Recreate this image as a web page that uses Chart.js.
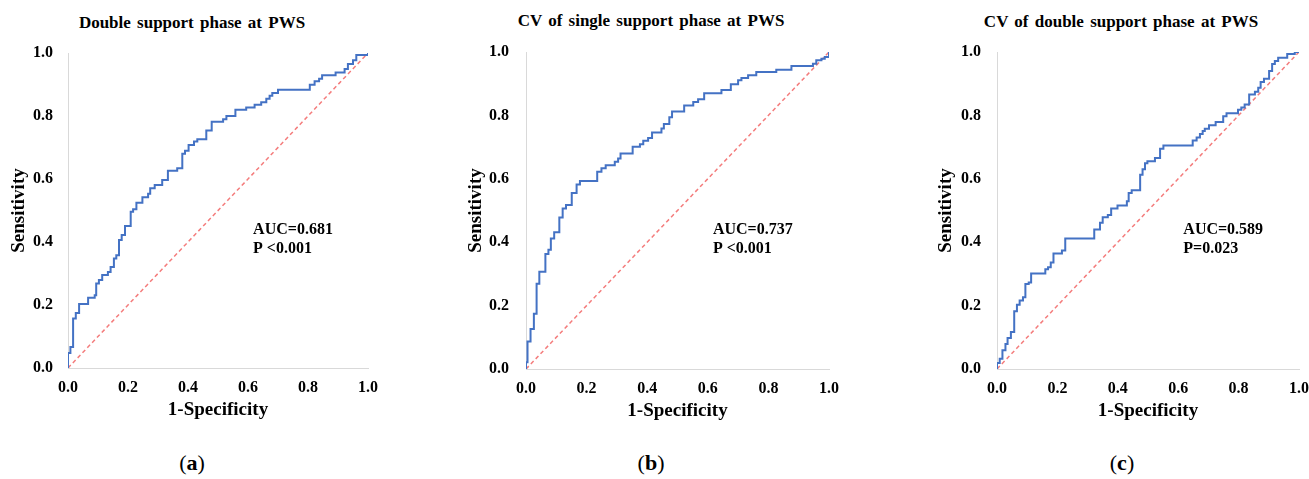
<!DOCTYPE html>
<html>
<head>
<meta charset="utf-8">
<script src="https://cdn.jsdelivr.net/npm/chart.js@4.4.1/dist/chart.umd.min.js"></script>
<style>
  html, body { margin: 0; padding: 0; background: #fff; }
  #wrap { position: relative; width: 1309px; height: 479px; overflow: hidden; background: #fff; }
  canvas { position: absolute; top: 0; }
  .ttl { position: absolute; font: bold 17px "Liberation Serif", "Times New Roman", serif; color: #000; white-space: nowrap; transform: translateX(-50%); word-spacing: 2px; }
  .sub { position: absolute; font: 22px "Liberation Serif", "Times New Roman", serif; color: #000; white-space: nowrap; transform: translateX(-50%); }
</style>
</head>
<body>
<div id="wrap">
  <div class="ttl" style="left:192px; top:13px;">Double support phase at PWS</div>
  <div class="ttl" style="left:651px; top:11px;">CV of single support phase at PWS</div>
  <div class="ttl" style="left:1121px; top:12px;">CV of double support phase at PWS</div>
  <canvas id="ca"></canvas>
  <canvas id="cb"></canvas>
  <canvas id="cc"></canvas>
  <div class="sub" style="left:192px; top:450px;">(<b>a</b>)</div>
  <div class="sub" style="left:651px; top:450px;">(<b>b</b>)</div>
  <div class="sub" style="left:1122px; top:450px;">(<b>c</b>)</div>
</div>
<script>
// ---- Data ----
const tickValues = [0, 0.2, 0.4, 0.6, 0.8, 1.0];
const xAxisLabel = "1-Specificity";
const yAxisLabel = "Sensitivity";

// (a) Double support phase at PWS
const fprA = [0, 0, 0.008, 0.017, 0.026, 0.037, 0.067, 0.089, 0.094, 0.103, 0.114, 0.133, 0.142, 0.153, 0.161, 0.170, 0.179, 0.190, 0.209, 0.217, 0.228, 0.248, 0.267, 0.274, 0.289, 0.314, 0.333, 0.364, 0.381, 0.390, 0.402, 0.420, 0.431, 0.461, 0.479, 0.517, 0.528, 0.558, 0.594, 0.622, 0.644, 0.661, 0.672, 0.681, 0.700, 0.806, 0.822, 0.837, 0.847, 0.892, 0.922, 0.933, 0.950, 0.961, 1.0];
const tprA = [0, 0.048, 0.067, 0.157, 0.175, 0.203, 0.223, 0.231, 0.268, 0.279, 0.295, 0.305, 0.321, 0.348, 0.358, 0.406, 0.422, 0.451, 0.496, 0.504, 0.525, 0.542, 0.553, 0.571, 0.581, 0.597, 0.626, 0.634, 0.680, 0.690, 0.708, 0.719, 0.726, 0.754, 0.782, 0.790, 0.800, 0.820, 0.827, 0.836, 0.844, 0.855, 0.864, 0.873, 0.883, 0.899, 0.910, 0.918, 0.929, 0.938, 0.949, 0.965, 0.977, 0.994, 1.0];
const statsA = ["AUC=0.681", "P <0.001"];

// (b) CV of single support phase at PWS
const fprB = [0, 0, 0.005, 0.015, 0.026, 0.035, 0.044, 0.064, 0.074, 0.082, 0.093, 0.110, 0.121, 0.132, 0.151, 0.167, 0.178, 0.235, 0.249, 0.263, 0.293, 0.304, 0.312, 0.352, 0.376, 0.387, 0.403, 0.416, 0.447, 0.455, 0.473, 0.482, 0.522, 0.552, 0.568, 0.588, 0.645, 0.676, 0.700, 0.711, 0.733, 0.760, 0.826, 0.876, 0.947, 0.958, 0.975, 0.986, 1.0];
const tprB = [0, 0.021, 0.087, 0.126, 0.174, 0.269, 0.307, 0.363, 0.376, 0.412, 0.431, 0.478, 0.506, 0.517, 0.555, 0.582, 0.593, 0.622, 0.633, 0.643, 0.654, 0.664, 0.680, 0.701, 0.709, 0.720, 0.729, 0.746, 0.759, 0.773, 0.794, 0.812, 0.831, 0.842, 0.851, 0.870, 0.880, 0.898, 0.911, 0.918, 0.927, 0.937, 0.944, 0.956, 0.963, 0.974, 0.979, 0.984, 1.0];
const statsB = ["AUC=0.737", "P <0.001"];

// (c) CV of double support phase at PWS
const fprC = [0, 0, 0.009, 0.018, 0.028, 0.035, 0.046, 0.057, 0.066, 0.075, 0.086, 0.094, 0.105, 0.113, 0.160, 0.169, 0.178, 0.187, 0.215, 0.226, 0.322, 0.341, 0.350, 0.367, 0.378, 0.399, 0.430, 0.436, 0.446, 0.474, 0.482, 0.490, 0.498, 0.523, 0.540, 0.551, 0.648, 0.661, 0.672, 0.681, 0.688, 0.702, 0.724, 0.749, 0.760, 0.798, 0.809, 0.820, 0.835, 0.854, 0.865, 0.873, 0.884, 0.901, 0.911, 0.920, 0.931, 0.961, 0.986, 1.0];
const tprC = [0, 0.019, 0.032, 0.059, 0.079, 0.098, 0.117, 0.182, 0.203, 0.216, 0.226, 0.268, 0.273, 0.301, 0.315, 0.321, 0.336, 0.364, 0.374, 0.412, 0.440, 0.461, 0.479, 0.486, 0.506, 0.516, 0.529, 0.555, 0.564, 0.613, 0.630, 0.649, 0.655, 0.666, 0.695, 0.705, 0.721, 0.730, 0.741, 0.751, 0.758, 0.769, 0.779, 0.797, 0.807, 0.818, 0.825, 0.834, 0.866, 0.875, 0.887, 0.905, 0.916, 0.940, 0.962, 0.972, 0.982, 0.994, 1.0, 1.0];
const statsC = ["AUC=0.589", "P=0.023"];

const refLine = [0, 1];

// ---- Rendering ----
const SERIF = '"Liberation Serif", "Times New Roman", serif';

const statsPlugin = {
  id: 'stats',
  afterDatasetsDraw(chart, args, opts) {
    const {ctx, scales} = chart;
    ctx.save();
    ctx.font = 'bold 16px ' + SERIF;
    ctx.fillStyle = '#000';
    ctx.textAlign = 'left';
    ctx.textBaseline = 'middle';
    const x = scales.x.getPixelForValue(opts.x);
    opts.lines.forEach((t, i) => {
      ctx.fillText(t, x, scales.y.getPixelForValue(opts.y) + i * opts.gap);
    });
    ctx.restore();
  }
};

function makeChart(id, fpr, tpr, stats, lay) {
  const cv = document.getElementById(id);
  cv.style.left = lay.left + 'px';
  cv.width = lay.w; cv.height = 440;
  cv.style.width = lay.w + 'px'; cv.style.height = '440px';
  const roc = fpr.map((x, i) => ({x: x, y: tpr[i]}));
  const diag = refLine.map(v => ({x: v, y: v}));
  return new Chart(cv, {
    type: 'scatter',
    data: {
      datasets: [
        { data: roc, showLine: true, stepped: true, borderColor: '#4472C4', borderWidth: 2, pointRadius: 0, fill: false, order: 1 },
        { data: diag, showLine: true, borderColor: '#F47C7C', borderWidth: 1.5, borderDash: [4, 3], pointRadius: 0, fill: false, order: 2 }
      ]
    },
    options: {
      responsive: false,
      animation: false,
      devicePixelRatio: 1,
      events: [],
      layout: { padding: { top: lay.top, right: lay.right, bottom: 440 - lay.bottom - 53, left: 0 } },
      plugins: {
        legend: { display: false },
        tooltip: { enabled: false },
        title: { display: false },
        stats: { lines: stats, x: 0.617, y: 0.44, gap: 19 }
      },
      scales: {
        x: {
          type: 'linear', min: 0, max: 1,
          afterBuildTicks: s => { s.ticks = tickValues.map(v => ({value: v})); },
          afterFit: s => { s.height = 53; s.paddingLeft = 0; s.paddingRight = 0; },
          grid: { display: false, drawTicks: false },
          border: { display: true, color: '#D9D9D9', width: 1 },
          ticks: { padding: 10, color: '#000', font: { family: SERIF, size: 16, weight: 'bold' }, callback: v => Number(v).toFixed(1), maxRotation: 0 },
          title: { display: true, text: xAxisLabel, color: '#000', font: { family: SERIF, size: 19, weight: 'bold' }, padding: { top: 0, bottom: 0 } }
        },
        y: {
          type: 'linear', min: 0, max: 1,
          afterBuildTicks: s => { s.ticks = tickValues.map(v => ({value: v})); },
          afterFit: s => { s.width = lay.yw; s.paddingTop = 0; s.paddingBottom = 0; },
          grid: { display: false, drawTicks: false },
          border: { display: true, color: '#D9D9D9', width: 1 },
          ticks: { padding: lay.tp, color: '#000', font: { family: SERIF, size: 16, weight: 'bold' }, callback: v => Number(v).toFixed(1) },
          title: { display: true, text: yAxisLabel, color: '#000', font: { family: SERIF, size: 19, weight: 'bold' }, padding: { top: lay.ttp, bottom: 0 } }
        }
      }
    },
    plugins: [statsPlugin]
  });
}

makeChart('ca', fprA, tprA, statsA, { left: 0,   w: 380, top: 53, bottom: 368, right: 12, yw: 68, tp: 15, ttp: 7.6 });
makeChart('cb', fprB, tprB, statsB, { left: 440, w: 400, top: 52, bottom: 369, right: 11, yw: 86, tp: 17, ttp: 24.6 });
makeChart('cc', fprC, tprC, statsC, { left: 920, w: 389, top: 52, bottom: 369, right: 10, yw: 77, tp: 16, ttp: 14.6 });
</script>
</body>
</html>
